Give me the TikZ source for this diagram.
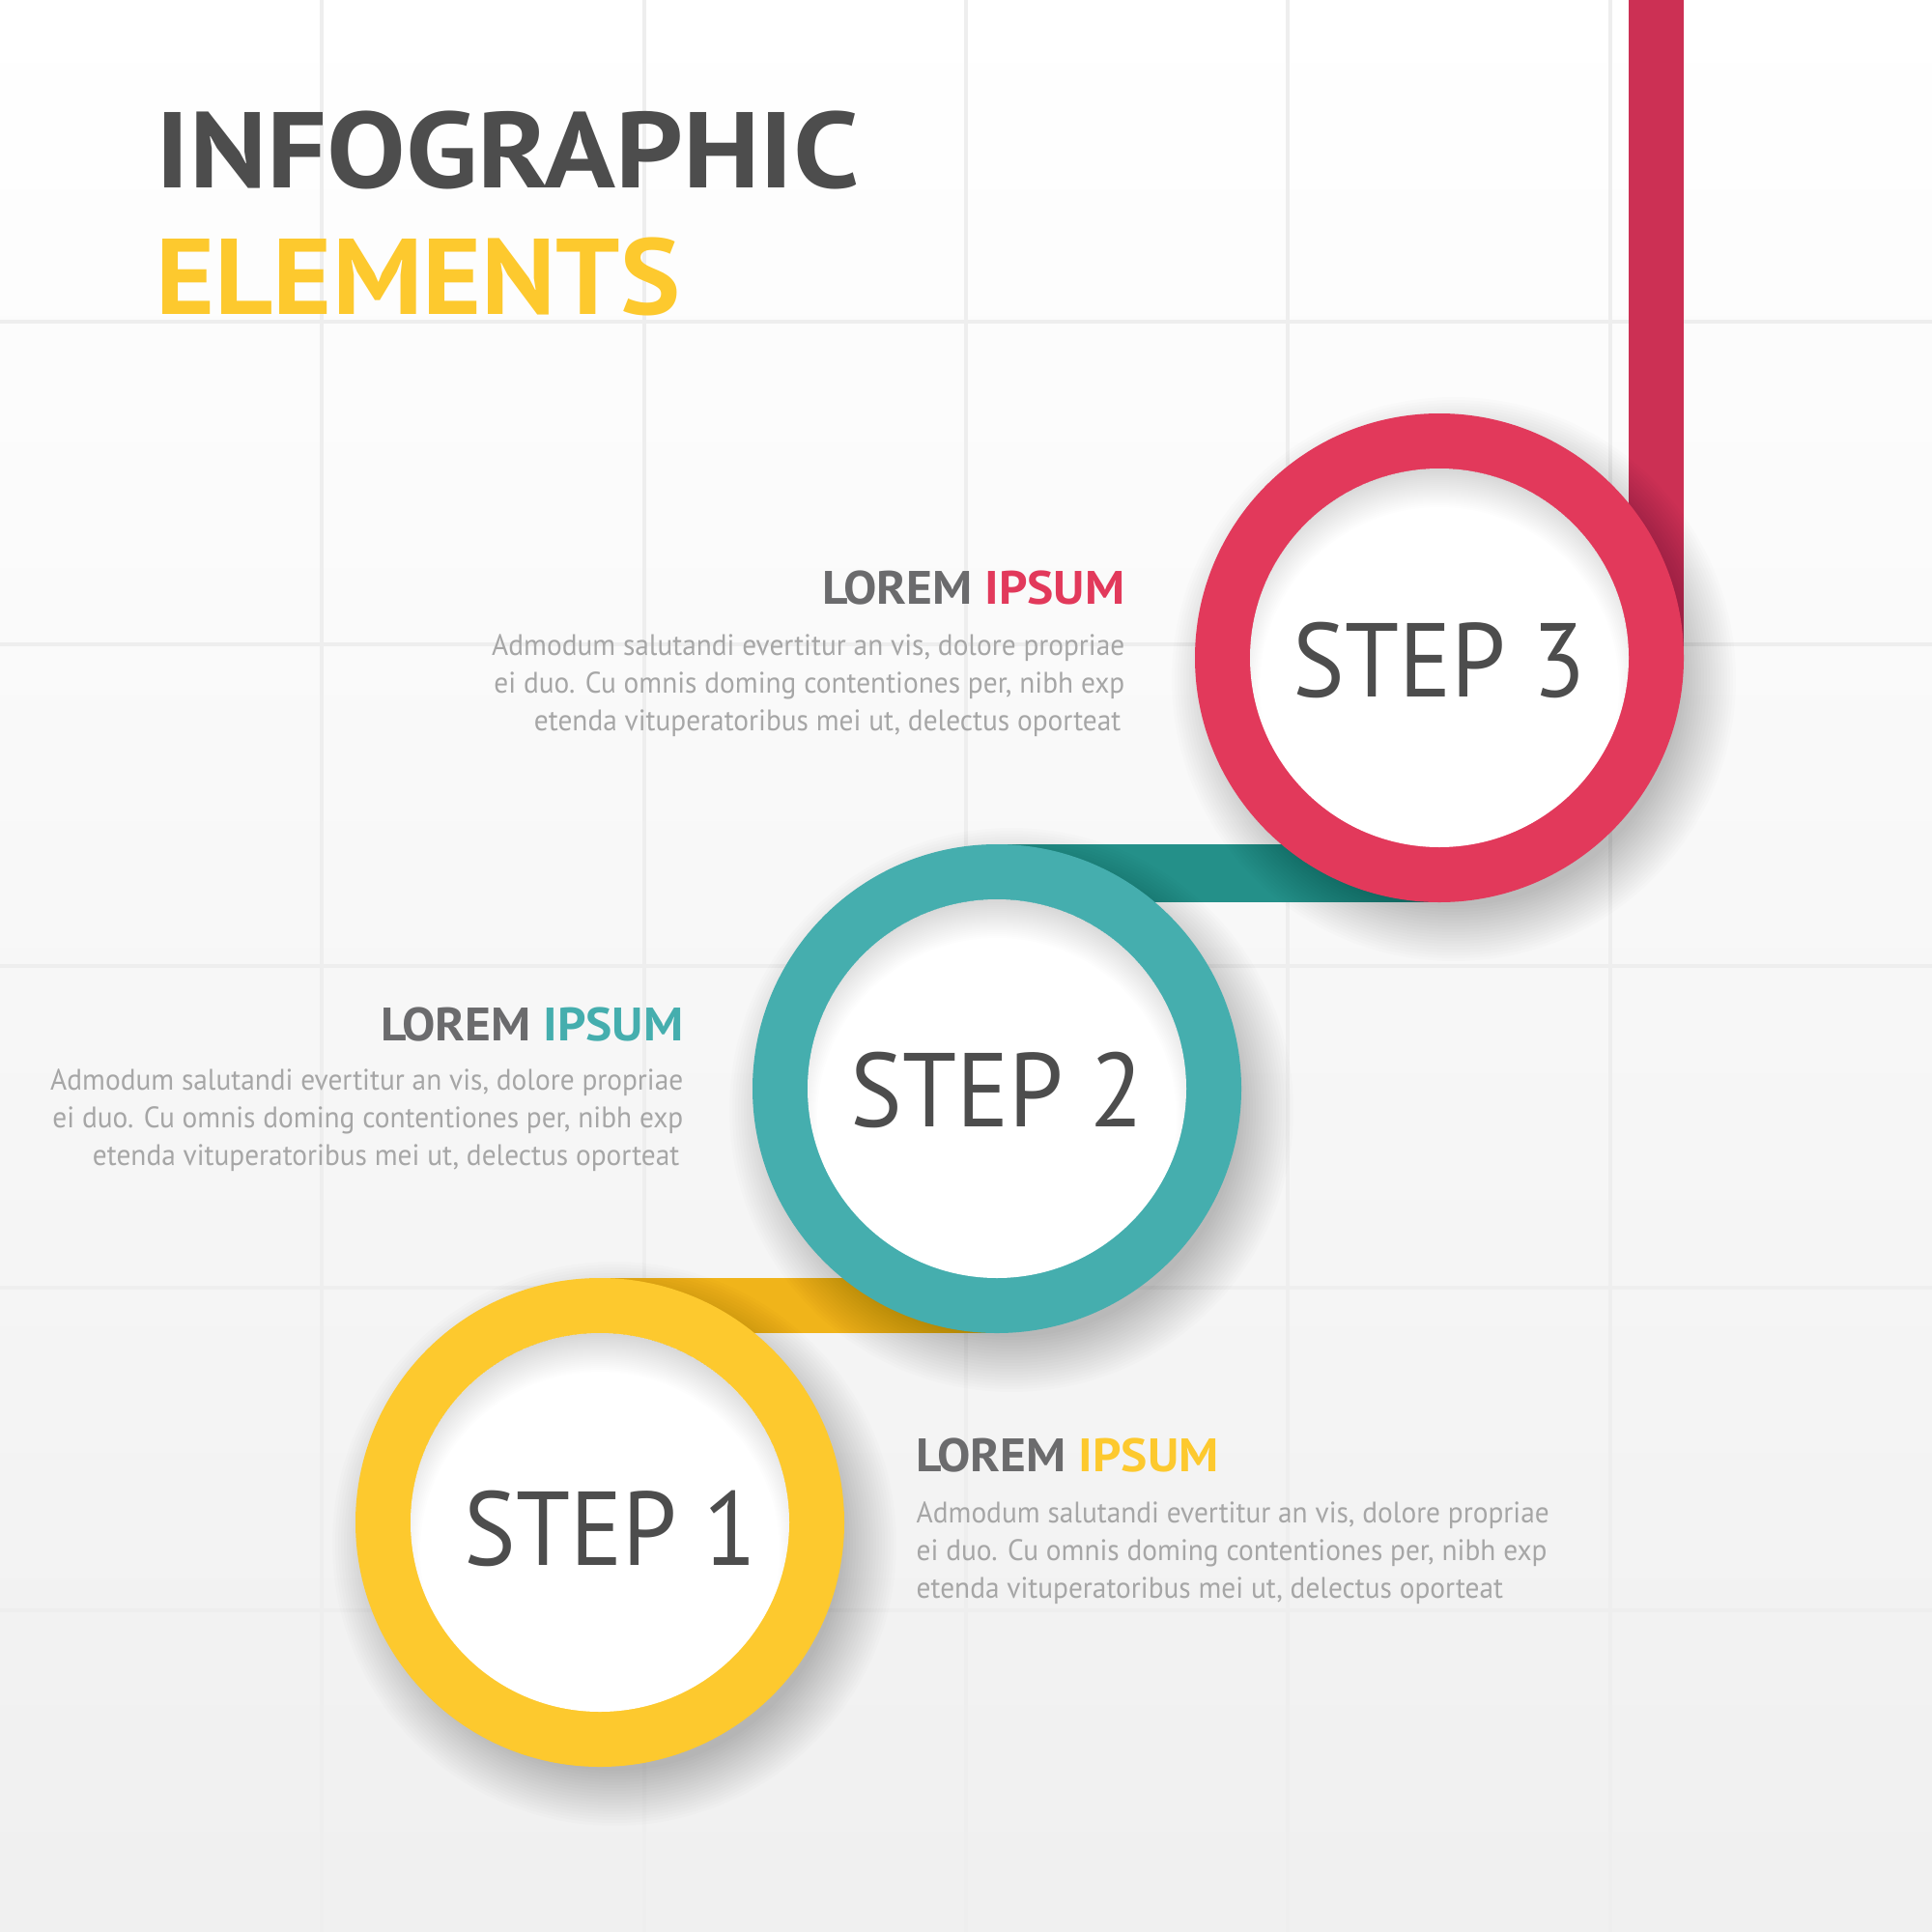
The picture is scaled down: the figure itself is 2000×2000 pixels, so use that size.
\documentclass[tikz,border=0pt]{standalone}
\usepackage{fontspec}
\setmainfont{PT Sans}
\newfontfamily\titlefontA[FakeStretch=1.095]{PT Sans}
\newfontfamily\titlefontB[FakeStretch=1.05]{PT Sans}
\newfontfamily\stepfont[FakeStretch=0.93]{PT Sans}
\newfontfamily\headfont[FakeStretch=1.06]{PT Sans}
\newfontfamily\bodyfont[FakeStretch=0.955]{PT Sans}
\usetikzlibrary{calc}

\definecolor{inkdark}{HTML}{4D4D4D}
\definecolor{inkgray}{HTML}{6B6B6D}
\definecolor{inklight}{HTML}{A6A6A6}
\definecolor{ringred}{HTML}{E2395B}
\definecolor{barred}{HTML}{CC3054}
\definecolor{ringteal}{HTML}{45AEAE}
\definecolor{barteal}{HTML}{249089}
\definecolor{ringyellow}{HTML}{FDC92E}
\definecolor{baryellow}{HTML}{F0B41A}
\definecolor{gridline}{HTML}{EEEEEE}

% ring with drop shadow and a soft inner shadow on the white disc
\newcommand{\stepdisc}[3]{%
  \foreach \i in {0,...,19}{\fill[black, opacity=0.010] ({#1+15},{#2+22}) circle ({235+3*\i});}
  \fill[#3] (#1,#2) circle (253);
  \fill[white] (#1,#2) circle (196);
  \begin{scope}
    \clip (#1,#2) circle (196);
    \foreach \i in {0,...,19}{\fill[black, opacity=0.009, even odd rule] (#1,#2) circle (200) (#1,{#2+30}) circle ({186+2*\i});}
  \end{scope}
}

\begin{document}
\begin{tikzpicture}[x=0.01cm, y=-0.01cm,
  titletext/.style={anchor=base west, inner sep=0},
  steptext/.style={anchor=base, inner sep=0, text=inkdark, font=\stepfont\fontsize{30.9}{36}\selectfont},
  headtext/.style={inner sep=0, text=inkgray, font=\headfont\fontsize{13.8}{16}\selectfont\bfseries},
  bodytext/.style={inner sep=0, text=inklight, font=\bodyfont\fontsize{8.74}{11}\selectfont},
  disc/.style={circle, minimum size=5.06cm, inner sep=0, outer sep=0}]
\useasboundingbox (0,0) rectangle (2000,2000);

% background and grid
\shade[top color=white, middle color=white!60!gray!7, bottom color=gray!12] (0,0) rectangle (2000,2000);
\foreach \k in {1,...,5}{
  \draw[gridline, line width=1.1pt] ({\k*2000/6},0) -- ({\k*2000/6},2000);
  \draw[gridline, line width=1.1pt] (0,{\k*2000/6}) -- (2000,{\k*2000/6});
}

% title
\node[titletext, text=inkdark, font=\titlefontA\fontsize{31.7}{36}\selectfont\bfseries] (title1) at (161,195) {INFOGRAPHIC};
\node[titletext, text=ringyellow, font=\titlefontB\fontsize{31.7}{36}\selectfont\bfseries] (title2) at (161,325) {ELEMENTS};

% step positions
\node[disc] (s1) at (621,1576) {};
\node[disc] (s2) at (1032,1127) {};
\node[disc] (s3) at (1490,681) {};
\coordinate (top) at (1686,0);

% connecting bands
\fill[baryellow] (s1.north) rectangle (s2.south);
\fill[barteal] (s2.north) rectangle (s3.south);
\fill[barred] (top) rectangle (s3.east);

% rings
\stepdisc{621}{1576}{ringyellow}
\stepdisc{1032}{1127}{ringteal}
\stepdisc{1490}{681}{ringred}

\node[steptext] (t1) at (632,1620) {STEP 1};
\node[steptext] (t2) at (1032,1166) {STEP 2};
\node[steptext] (t3) at (1490,721) {STEP 3};

% text block of step 3
\node[headtext, anchor=base east] (h3) at (1165,625) {LOREM \textcolor{ringred}{IPSUM}};
\node[bodytext, anchor=base east] (b3a) at (1165,678) {Admodum salutandi evertitur an vis, dolore propriae};
\node[bodytext, anchor=base east] (b3b) at (1165,717) {ei duo. Cu omnis doming contentiones per, nibh exp};
\node[bodytext, anchor=base east] (b3c) at (1161,756) {etenda vituperatoribus mei ut, delectus oporteat};

% text block of step 2
\node[headtext, anchor=base east] (h2) at (708,1077) {LOREM \textcolor{ringteal}{IPSUM}};
\node[bodytext, anchor=base east] (b2a) at (708,1128) {Admodum salutandi evertitur an vis, dolore propriae};
\node[bodytext, anchor=base east] (b2b) at (708,1167) {ei duo. Cu omnis doming contentiones per, nibh exp};
\node[bodytext, anchor=base east] (b2c) at (704,1206) {etenda vituperatoribus mei ut, delectus oporteat};

% text block of step 1
\node[headtext, anchor=base west] (h1) at (948,1523) {LOREM \textcolor{ringyellow}{IPSUM}};
\node[bodytext, anchor=base west] (b1a) at (948,1576) {Admodum salutandi evertitur an vis, dolore propriae};
\node[bodytext, anchor=base west] (b1b) at (948,1615) {ei duo. Cu omnis doming contentiones per, nibh exp};
\node[bodytext, anchor=base west] (b1c) at (948,1654) {etenda vituperatoribus mei ut, delectus oporteat};
\end{tikzpicture}
\end{document}
